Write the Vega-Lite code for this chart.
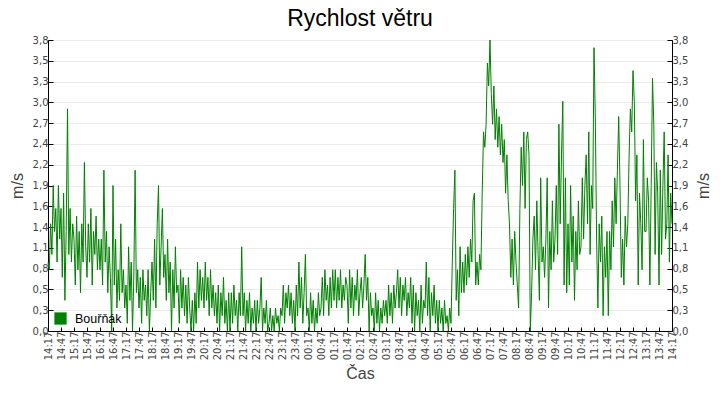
{
  "$schema": "https://vega.github.io/schema/vega-lite/v6.json",
  "autosize": "none",
  "width": 624,
  "height": 291,
  "padding": {"left": 48, "top": 40, "right": 48, "bottom": 69},
  "background": "white",
  "title": {
    "text": "Rychlost větru",
    "font": "Liberation Sans",
    "fontSize": 23,
    "fontWeight": "normal",
    "color": "black",
    "offset": 4
  },
  "data": {
    "values": [
      {"t": "2024-05-01T14:17", "v": 0.9}, {"t": "2024-05-01T14:20", "v": 0.8}, {"t": "2024-05-01T14:23", "v": 1.4}, {"t": "2024-05-01T14:26", "v": 1.0}, {"t": "2024-05-01T14:29", "v": 1.9},
      {"t": "2024-05-01T14:32", "v": 1.3}, {"t": "2024-05-01T14:35", "v": 1.6}, {"t": "2024-05-01T14:38", "v": 0.9}, {"t": "2024-05-01T14:41", "v": 1.9}, {"t": "2024-05-01T14:44", "v": 1.2},
      {"t": "2024-05-01T14:47", "v": 1.6}, {"t": "2024-05-01T14:50", "v": 0.7}, {"t": "2024-05-01T14:53", "v": 1.8}, {"t": "2024-05-01T14:56", "v": 0.4}, {"t": "2024-05-01T14:59", "v": 1.3},
      {"t": "2024-05-01T15:02", "v": 2.9}, {"t": "2024-05-01T15:05", "v": 1.0}, {"t": "2024-05-01T15:08", "v": 1.6}, {"t": "2024-05-01T15:11", "v": 0.9}, {"t": "2024-05-01T15:14", "v": 1.4},
      {"t": "2024-05-01T15:17", "v": 1.2}, {"t": "2024-05-01T15:20", "v": 0.6}, {"t": "2024-05-01T15:23", "v": 1.5}, {"t": "2024-05-01T15:26", "v": 0.8}, {"t": "2024-05-01T15:29", "v": 1.3},
      {"t": "2024-05-01T15:32", "v": 0.5}, {"t": "2024-05-01T15:35", "v": 1.4}, {"t": "2024-05-01T15:38", "v": 0.9}, {"t": "2024-05-01T15:41", "v": 2.2}, {"t": "2024-05-01T15:44", "v": 1.1},
      {"t": "2024-05-01T15:47", "v": 0.7}, {"t": "2024-05-01T15:50", "v": 1.4}, {"t": "2024-05-01T15:53", "v": 0.9}, {"t": "2024-05-01T15:56", "v": 1.6}, {"t": "2024-05-01T15:59", "v": 0.6},
      {"t": "2024-05-01T16:02", "v": 1.3}, {"t": "2024-05-01T16:05", "v": 1.0}, {"t": "2024-05-01T16:08", "v": 1.5}, {"t": "2024-05-01T16:11", "v": 0.8}, {"t": "2024-05-01T16:14", "v": 1.2},
      {"t": "2024-05-01T16:17", "v": 0.8}, {"t": "2024-05-01T16:20", "v": 1.2}, {"t": "2024-05-01T16:23", "v": 0.6}, {"t": "2024-05-01T16:26", "v": 2.1}, {"t": "2024-05-01T16:29", "v": 0.9},
      {"t": "2024-05-01T16:32", "v": 1.3}, {"t": "2024-05-01T16:35", "v": 0.5}, {"t": "2024-05-01T16:38", "v": 1.1}, {"t": "2024-05-01T16:41", "v": 0.7}, {"t": "2024-05-01T16:44", "v": 0.0},
      {"t": "2024-05-01T16:47", "v": 1.9}, {"t": "2024-05-01T16:50", "v": 0.6}, {"t": "2024-05-01T16:53", "v": 1.2}, {"t": "2024-05-01T16:56", "v": 0.3}, {"t": "2024-05-01T16:59", "v": 0.8},
      {"t": "2024-05-01T17:02", "v": 0.4}, {"t": "2024-05-01T17:05", "v": 1.4}, {"t": "2024-05-01T17:08", "v": 0.5}, {"t": "2024-05-01T17:11", "v": 0.8}, {"t": "2024-05-01T17:14", "v": 0.3},
      {"t": "2024-05-01T17:17", "v": 0.6}, {"t": "2024-05-01T17:20", "v": 0.1}, {"t": "2024-05-01T17:23", "v": 1.1}, {"t": "2024-05-01T17:26", "v": 0.4}, {"t": "2024-05-01T17:29", "v": 0.9},
      {"t": "2024-05-01T17:32", "v": 0.0}, {"t": "2024-05-01T17:35", "v": 0.7}, {"t": "2024-05-01T17:38", "v": 2.1}, {"t": "2024-05-01T17:41", "v": 0.5}, {"t": "2024-05-01T17:44", "v": 0.8},
      {"t": "2024-05-01T17:47", "v": 0.3}, {"t": "2024-05-01T17:50", "v": 0.7}, {"t": "2024-05-01T17:53", "v": 0.1}, {"t": "2024-05-01T17:56", "v": 0.8}, {"t": "2024-05-01T17:59", "v": 0.4},
      {"t": "2024-05-01T18:02", "v": 0.6}, {"t": "2024-05-01T18:05", "v": 0.2}, {"t": "2024-05-01T18:08", "v": 0.8}, {"t": "2024-05-01T18:11", "v": 0.0}, {"t": "2024-05-01T18:14", "v": 0.5},
      {"t": "2024-05-01T18:17", "v": 0.9}, {"t": "2024-05-01T18:20", "v": 0.4}, {"t": "2024-05-01T18:23", "v": 1.2}, {"t": "2024-05-01T18:26", "v": 0.3}, {"t": "2024-05-01T18:29", "v": 1.4},
      {"t": "2024-05-01T18:32", "v": 1.9}, {"t": "2024-05-01T18:35", "v": 0.6}, {"t": "2024-05-01T18:38", "v": 1.1}, {"t": "2024-05-01T18:41", "v": 1.6}, {"t": "2024-05-01T18:44", "v": 0.7},
      {"t": "2024-05-01T18:47", "v": 1.0}, {"t": "2024-05-01T18:50", "v": 0.4}, {"t": "2024-05-01T18:53", "v": 1.2}, {"t": "2024-05-01T18:56", "v": 0.5}, {"t": "2024-05-01T18:59", "v": 0.9},
      {"t": "2024-05-01T19:02", "v": 0.0}, {"t": "2024-05-01T19:05", "v": 0.8}, {"t": "2024-05-01T19:08", "v": 0.3}, {"t": "2024-05-01T19:11", "v": 1.1}, {"t": "2024-05-01T19:14", "v": 0.5},
      {"t": "2024-05-01T19:17", "v": 0.6}, {"t": "2024-05-01T19:20", "v": 0.1}, {"t": "2024-05-01T19:23", "v": 0.8}, {"t": "2024-05-01T19:26", "v": 0.3}, {"t": "2024-05-01T19:29", "v": 0.7},
      {"t": "2024-05-01T19:32", "v": 0.2}, {"t": "2024-05-01T19:35", "v": 0.6}, {"t": "2024-05-01T19:38", "v": 0.1}, {"t": "2024-05-01T19:41", "v": 0.7}, {"t": "2024-05-01T19:44", "v": 0.3},
      {"t": "2024-05-01T19:47", "v": 0.0}, {"t": "2024-05-01T19:50", "v": 0.4}, {"t": "2024-05-01T19:53", "v": 0.0}, {"t": "2024-05-01T19:56", "v": 0.5}, {"t": "2024-05-01T19:59", "v": 0.1},
      {"t": "2024-05-01T20:02", "v": 0.9}, {"t": "2024-05-01T20:05", "v": 0.3}, {"t": "2024-05-01T20:08", "v": 0.8}, {"t": "2024-05-01T20:11", "v": 0.4}, {"t": "2024-05-01T20:14", "v": 0.7},
      {"t": "2024-05-01T20:17", "v": 0.3}, {"t": "2024-05-01T20:20", "v": 0.9}, {"t": "2024-05-01T20:23", "v": 0.4}, {"t": "2024-05-01T20:26", "v": 0.7}, {"t": "2024-05-01T20:29", "v": 0.2},
      {"t": "2024-05-01T20:32", "v": 0.8}, {"t": "2024-05-01T20:35", "v": 0.3}, {"t": "2024-05-01T20:38", "v": 0.6}, {"t": "2024-05-01T20:41", "v": 0.2}, {"t": "2024-05-01T20:44", "v": 0.5},
      {"t": "2024-05-01T20:47", "v": 0.1}, {"t": "2024-05-01T20:50", "v": 0.6}, {"t": "2024-05-01T20:53", "v": 0.0}, {"t": "2024-05-01T20:56", "v": 0.5}, {"t": "2024-05-01T20:59", "v": 0.2},
      {"t": "2024-05-01T21:02", "v": 0.7}, {"t": "2024-05-01T21:05", "v": 0.1}, {"t": "2024-05-01T21:08", "v": 0.4}, {"t": "2024-05-01T21:11", "v": 0.0}, {"t": "2024-05-01T21:14", "v": 0.5},
      {"t": "2024-05-01T21:17", "v": 0.0}, {"t": "2024-05-01T21:20", "v": 0.5}, {"t": "2024-05-01T21:23", "v": 0.1}, {"t": "2024-05-01T21:26", "v": 0.6}, {"t": "2024-05-01T21:29", "v": 0.2},
      {"t": "2024-05-01T21:32", "v": 0.4}, {"t": "2024-05-01T21:35", "v": 0.0}, {"t": "2024-05-01T21:38", "v": 0.5}, {"t": "2024-05-01T21:41", "v": 0.2}, {"t": "2024-05-01T21:44", "v": 1.1},
      {"t": "2024-05-01T21:47", "v": 0.2}, {"t": "2024-05-01T21:50", "v": 0.5}, {"t": "2024-05-01T21:53", "v": 0.0}, {"t": "2024-05-01T21:56", "v": 0.4}, {"t": "2024-05-01T21:59", "v": 0.1},
      {"t": "2024-05-01T22:02", "v": 0.5}, {"t": "2024-05-01T22:05", "v": 0.0}, {"t": "2024-05-01T22:08", "v": 0.3}, {"t": "2024-05-01T22:11", "v": 0.1}, {"t": "2024-05-01T22:14", "v": 0.4},
      {"t": "2024-05-01T22:17", "v": 0.0}, {"t": "2024-05-01T22:20", "v": 0.4}, {"t": "2024-05-01T22:23", "v": 0.1}, {"t": "2024-05-01T22:26", "v": 0.3}, {"t": "2024-05-01T22:29", "v": 0.7},
      {"t": "2024-05-01T22:32", "v": 0.0}, {"t": "2024-05-01T22:35", "v": 0.3}, {"t": "2024-05-01T22:38", "v": 0.1}, {"t": "2024-05-01T22:41", "v": 0.4}, {"t": "2024-05-01T22:44", "v": 0.0},
      {"t": "2024-05-01T22:47", "v": 0.1}, {"t": "2024-05-01T22:50", "v": 0.3}, {"t": "2024-05-01T22:53", "v": 0.0}, {"t": "2024-05-01T22:56", "v": 0.2}, {"t": "2024-05-01T22:59", "v": 0.0},
      {"t": "2024-05-01T23:02", "v": 0.3}, {"t": "2024-05-01T23:05", "v": 0.1}, {"t": "2024-05-01T23:08", "v": 0.2}, {"t": "2024-05-01T23:11", "v": 0.0}, {"t": "2024-05-01T23:14", "v": 0.3},
      {"t": "2024-05-01T23:17", "v": 0.2}, {"t": "2024-05-01T23:20", "v": 0.6}, {"t": "2024-05-01T23:23", "v": 0.1}, {"t": "2024-05-01T23:26", "v": 0.5}, {"t": "2024-05-01T23:29", "v": 0.3},
      {"t": "2024-05-01T23:32", "v": 0.6}, {"t": "2024-05-01T23:35", "v": 0.2}, {"t": "2024-05-01T23:38", "v": 0.5}, {"t": "2024-05-01T23:41", "v": 0.1}, {"t": "2024-05-01T23:44", "v": 0.4},
      {"t": "2024-05-01T23:47", "v": 0.0}, {"t": "2024-05-01T23:50", "v": 0.6}, {"t": "2024-05-01T23:53", "v": 0.2}, {"t": "2024-05-01T23:56", "v": 0.9}, {"t": "2024-05-01T23:59", "v": 0.3},
      {"t": "2024-05-02T00:02", "v": 0.7}, {"t": "2024-05-02T00:05", "v": 0.1}, {"t": "2024-05-02T00:08", "v": 0.5}, {"t": "2024-05-02T00:11", "v": 1.0}, {"t": "2024-05-02T00:14", "v": 0.2},
      {"t": "2024-05-02T00:17", "v": 0.3}, {"t": "2024-05-02T00:20", "v": 0.0}, {"t": "2024-05-02T00:23", "v": 0.5}, {"t": "2024-05-02T00:26", "v": 0.1}, {"t": "2024-05-02T00:29", "v": 0.4},
      {"t": "2024-05-02T00:32", "v": 0.0}, {"t": "2024-05-02T00:35", "v": 0.3}, {"t": "2024-05-02T00:38", "v": 0.1}, {"t": "2024-05-02T00:41", "v": 0.5}, {"t": "2024-05-02T00:44", "v": 0.2},
      {"t": "2024-05-02T00:47", "v": 0.3}, {"t": "2024-05-02T00:50", "v": 0.7}, {"t": "2024-05-02T00:53", "v": 0.2}, {"t": "2024-05-02T00:56", "v": 0.8}, {"t": "2024-05-02T00:59", "v": 0.4},
      {"t": "2024-05-02T01:02", "v": 0.6}, {"t": "2024-05-02T01:05", "v": 0.2}, {"t": "2024-05-02T01:08", "v": 0.7}, {"t": "2024-05-02T01:11", "v": 0.3}, {"t": "2024-05-02T01:14", "v": 0.8},
      {"t": "2024-05-02T01:17", "v": 0.4}, {"t": "2024-05-02T01:20", "v": 0.8}, {"t": "2024-05-02T01:23", "v": 0.3}, {"t": "2024-05-02T01:26", "v": 0.7}, {"t": "2024-05-02T01:29", "v": 0.4},
      {"t": "2024-05-02T01:32", "v": 0.8}, {"t": "2024-05-02T01:35", "v": 0.3}, {"t": "2024-05-02T01:38", "v": 0.6}, {"t": "2024-05-02T01:41", "v": 0.4}, {"t": "2024-05-02T01:44", "v": 0.7},
      {"t": "2024-05-02T01:47", "v": 0.6}, {"t": "2024-05-02T01:50", "v": 0.1}, {"t": "2024-05-02T01:53", "v": 0.8}, {"t": "2024-05-02T01:56", "v": 0.3}, {"t": "2024-05-02T01:59", "v": 0.7},
      {"t": "2024-05-02T02:02", "v": 0.2}, {"t": "2024-05-02T02:05", "v": 0.6}, {"t": "2024-05-02T02:08", "v": 0.4}, {"t": "2024-05-02T02:11", "v": 0.8}, {"t": "2024-05-02T02:14", "v": 0.2},
      {"t": "2024-05-02T02:17", "v": 0.5}, {"t": "2024-05-02T02:20", "v": 0.7}, {"t": "2024-05-02T02:23", "v": 0.3}, {"t": "2024-05-02T02:26", "v": 0.6}, {"t": "2024-05-02T02:29", "v": 1.0},
      {"t": "2024-05-02T02:32", "v": 0.4}, {"t": "2024-05-02T02:35", "v": 0.7}, {"t": "2024-05-02T02:38", "v": 0.0}, {"t": "2024-05-02T02:41", "v": 0.5}, {"t": "2024-05-02T02:44", "v": 0.2},
      {"t": "2024-05-02T02:47", "v": 0.3}, {"t": "2024-05-02T02:50", "v": 0.0}, {"t": "2024-05-02T02:53", "v": 0.5}, {"t": "2024-05-02T02:56", "v": 0.1}, {"t": "2024-05-02T02:59", "v": 0.4},
      {"t": "2024-05-02T03:02", "v": 0.0}, {"t": "2024-05-02T03:05", "v": 0.3}, {"t": "2024-05-02T03:08", "v": 0.1}, {"t": "2024-05-02T03:11", "v": 0.4}, {"t": "2024-05-02T03:14", "v": 0.2},
      {"t": "2024-05-02T03:17", "v": 0.4}, {"t": "2024-05-02T03:20", "v": 0.1}, {"t": "2024-05-02T03:23", "v": 0.6}, {"t": "2024-05-02T03:26", "v": 0.2}, {"t": "2024-05-02T03:29", "v": 0.5},
      {"t": "2024-05-02T03:32", "v": 0.1}, {"t": "2024-05-02T03:35", "v": 0.6}, {"t": "2024-05-02T03:38", "v": 0.3}, {"t": "2024-05-02T03:41", "v": 0.5}, {"t": "2024-05-02T03:44", "v": 0.8},
      {"t": "2024-05-02T03:47", "v": 0.3}, {"t": "2024-05-02T03:50", "v": 0.7}, {"t": "2024-05-02T03:53", "v": 0.2}, {"t": "2024-05-02T03:56", "v": 0.6}, {"t": "2024-05-02T03:59", "v": 0.4},
      {"t": "2024-05-02T04:02", "v": 0.7}, {"t": "2024-05-02T04:05", "v": 0.2}, {"t": "2024-05-02T04:08", "v": 0.5}, {"t": "2024-05-02T04:11", "v": 0.3}, {"t": "2024-05-02T04:14", "v": 0.7},
      {"t": "2024-05-02T04:17", "v": 0.1}, {"t": "2024-05-02T04:20", "v": 0.6}, {"t": "2024-05-02T04:23", "v": 0.0}, {"t": "2024-05-02T04:26", "v": 0.5}, {"t": "2024-05-02T04:29", "v": 0.2},
      {"t": "2024-05-02T04:32", "v": 0.4}, {"t": "2024-05-02T04:35", "v": 0.0}, {"t": "2024-05-02T04:38", "v": 0.6}, {"t": "2024-05-02T04:41", "v": 0.1}, {"t": "2024-05-02T04:44", "v": 0.4},
      {"t": "2024-05-02T04:47", "v": 0.3}, {"t": "2024-05-02T04:50", "v": 0.9}, {"t": "2024-05-02T04:53", "v": 0.2}, {"t": "2024-05-02T04:56", "v": 0.7}, {"t": "2024-05-02T04:59", "v": 0.0},
      {"t": "2024-05-02T05:02", "v": 0.5}, {"t": "2024-05-02T05:05", "v": 0.2}, {"t": "2024-05-02T05:08", "v": 0.6}, {"t": "2024-05-02T05:11", "v": 0.1}, {"t": "2024-05-02T05:14", "v": 0.4},
      {"t": "2024-05-02T05:17", "v": 0.0}, {"t": "2024-05-02T05:20", "v": 0.4}, {"t": "2024-05-02T05:23", "v": 0.1}, {"t": "2024-05-02T05:26", "v": 0.3}, {"t": "2024-05-02T05:29", "v": 0.0},
      {"t": "2024-05-02T05:32", "v": 0.4}, {"t": "2024-05-02T05:35", "v": 0.1}, {"t": "2024-05-02T05:38", "v": 0.2}, {"t": "2024-05-02T05:41", "v": 0.0}, {"t": "2024-05-02T05:44", "v": 0.3},
      {"t": "2024-05-02T05:47", "v": 0.1}, {"t": "2024-05-02T05:50", "v": 0.9}, {"t": "2024-05-02T05:53", "v": 1.6}, {"t": "2024-05-02T05:56", "v": 2.1}, {"t": "2024-05-02T05:59", "v": 0.4},
      {"t": "2024-05-02T06:02", "v": 0.8}, {"t": "2024-05-02T06:05", "v": 0.2}, {"t": "2024-05-02T06:08", "v": 1.1}, {"t": "2024-05-02T06:11", "v": 0.5}, {"t": "2024-05-02T06:14", "v": 0.9},
      {"t": "2024-05-02T06:17", "v": 0.5}, {"t": "2024-05-02T06:20", "v": 1.0}, {"t": "2024-05-02T06:23", "v": 0.6}, {"t": "2024-05-02T06:26", "v": 1.1}, {"t": "2024-05-02T06:29", "v": 0.7},
      {"t": "2024-05-02T06:32", "v": 1.2}, {"t": "2024-05-02T06:35", "v": 0.9}, {"t": "2024-05-02T06:38", "v": 1.7}, {"t": "2024-05-02T06:41", "v": 1.8}, {"t": "2024-05-02T06:44", "v": 0.6},
      {"t": "2024-05-02T06:47", "v": 0.9}, {"t": "2024-05-02T06:50", "v": 0.6}, {"t": "2024-05-02T06:53", "v": 1.0}, {"t": "2024-05-02T06:56", "v": 0.8}, {"t": "2024-05-02T06:59", "v": 1.8},
      {"t": "2024-05-02T07:02", "v": 2.6}, {"t": "2024-05-02T07:05", "v": 2.4}, {"t": "2024-05-02T07:08", "v": 2.7}, {"t": "2024-05-02T07:11", "v": 3.5}, {"t": "2024-05-02T07:14", "v": 3.2},
      {"t": "2024-05-02T07:17", "v": 3.8}, {"t": "2024-05-02T07:20", "v": 3.1}, {"t": "2024-05-02T07:23", "v": 2.7}, {"t": "2024-05-02T07:26", "v": 3.2}, {"t": "2024-05-02T07:29", "v": 2.5},
      {"t": "2024-05-02T07:32", "v": 2.9}, {"t": "2024-05-02T07:35", "v": 2.4}, {"t": "2024-05-02T07:38", "v": 2.8}, {"t": "2024-05-02T07:41", "v": 2.3}, {"t": "2024-05-02T07:44", "v": 2.7},
      {"t": "2024-05-02T07:47", "v": 2.2}, {"t": "2024-05-02T07:50", "v": 2.5}, {"t": "2024-05-02T07:53", "v": 1.8}, {"t": "2024-05-02T07:56", "v": 2.3}, {"t": "2024-05-02T07:59", "v": 1.7},
      {"t": "2024-05-02T08:02", "v": 1.4}, {"t": "2024-05-02T08:05", "v": 0.7}, {"t": "2024-05-02T08:08", "v": 1.2}, {"t": "2024-05-02T08:11", "v": 0.6}, {"t": "2024-05-02T08:14", "v": 1.3},
      {"t": "2024-05-02T08:17", "v": 0.9}, {"t": "2024-05-02T08:20", "v": 0.6}, {"t": "2024-05-02T08:23", "v": 0.3}, {"t": "2024-05-02T08:26", "v": 1.6}, {"t": "2024-05-02T08:29", "v": 2.4},
      {"t": "2024-05-02T08:32", "v": 1.9}, {"t": "2024-05-02T08:35", "v": 2.6}, {"t": "2024-05-02T08:38", "v": 1.6}, {"t": "2024-05-02T08:41", "v": 2.5}, {"t": "2024-05-02T08:44", "v": 2.6},
      {"t": "2024-05-02T08:47", "v": 2.3}, {"t": "2024-05-02T08:50", "v": 0.0}, {"t": "2024-05-02T08:53", "v": 0.5}, {"t": "2024-05-02T08:56", "v": 1.2}, {"t": "2024-05-02T08:59", "v": 1.5},
      {"t": "2024-05-02T09:02", "v": 0.8}, {"t": "2024-05-02T09:05", "v": 1.7}, {"t": "2024-05-02T09:08", "v": 1.0}, {"t": "2024-05-02T09:11", "v": 0.4}, {"t": "2024-05-02T09:14", "v": 2.0},
      {"t": "2024-05-02T09:17", "v": 0.9}, {"t": "2024-05-02T09:20", "v": 1.1}, {"t": "2024-05-02T09:23", "v": 0.7}, {"t": "2024-05-02T09:26", "v": 1.2}, {"t": "2024-05-02T09:29", "v": 2.0},
      {"t": "2024-05-02T09:32", "v": 0.3}, {"t": "2024-05-02T09:35", "v": 1.3}, {"t": "2024-05-02T09:38", "v": 0.8}, {"t": "2024-05-02T09:41", "v": 1.7}, {"t": "2024-05-02T09:44", "v": 0.9},
      {"t": "2024-05-02T09:47", "v": 1.2}, {"t": "2024-05-02T09:50", "v": 1.9}, {"t": "2024-05-02T09:53", "v": 1.0}, {"t": "2024-05-02T09:56", "v": 2.7}, {"t": "2024-05-02T09:59", "v": 1.4},
      {"t": "2024-05-02T10:02", "v": 2.3}, {"t": "2024-05-02T10:05", "v": 3.0}, {"t": "2024-05-02T10:08", "v": 0.6}, {"t": "2024-05-02T10:11", "v": 2.0}, {"t": "2024-05-02T10:14", "v": 0.5},
      {"t": "2024-05-02T10:17", "v": 1.4}, {"t": "2024-05-02T10:20", "v": 0.6}, {"t": "2024-05-02T10:23", "v": 1.9}, {"t": "2024-05-02T10:26", "v": 0.9}, {"t": "2024-05-02T10:29", "v": 1.5},
      {"t": "2024-05-02T10:32", "v": 0.4}, {"t": "2024-05-02T10:35", "v": 1.3}, {"t": "2024-05-02T10:38", "v": 0.8}, {"t": "2024-05-02T10:41", "v": 1.7}, {"t": "2024-05-02T10:44", "v": 1.0},
      {"t": "2024-05-02T10:47", "v": 1.1}, {"t": "2024-05-02T10:50", "v": 2.0}, {"t": "2024-05-02T10:53", "v": 1.2}, {"t": "2024-05-02T10:56", "v": 1.9}, {"t": "2024-05-02T10:59", "v": 2.3},
      {"t": "2024-05-02T11:02", "v": 1.4}, {"t": "2024-05-02T11:05", "v": 2.6}, {"t": "2024-05-02T11:08", "v": 1.0}, {"t": "2024-05-02T11:11", "v": 1.9}, {"t": "2024-05-02T11:14", "v": 1.6},
      {"t": "2024-05-02T11:17", "v": 3.7}, {"t": "2024-05-02T11:20", "v": 2.8}, {"t": "2024-05-02T11:23", "v": 1.2}, {"t": "2024-05-02T11:26", "v": 0.3}, {"t": "2024-05-02T11:29", "v": 1.4},
      {"t": "2024-05-02T11:32", "v": 0.9}, {"t": "2024-05-02T11:35", "v": 1.5}, {"t": "2024-05-02T11:38", "v": 0.2}, {"t": "2024-05-02T11:41", "v": 1.1}, {"t": "2024-05-02T11:44", "v": 0.7},
      {"t": "2024-05-02T11:47", "v": 1.3}, {"t": "2024-05-02T11:50", "v": 0.2}, {"t": "2024-05-02T11:53", "v": 1.3}, {"t": "2024-05-02T11:56", "v": 0.8}, {"t": "2024-05-02T11:59", "v": 1.7},
      {"t": "2024-05-02T12:02", "v": 1.1}, {"t": "2024-05-02T12:05", "v": 2.0}, {"t": "2024-05-02T12:08", "v": 1.4}, {"t": "2024-05-02T12:11", "v": 2.1}, {"t": "2024-05-02T12:14", "v": 2.8},
      {"t": "2024-05-02T12:17", "v": 1.9}, {"t": "2024-05-02T12:20", "v": 0.7}, {"t": "2024-05-02T12:23", "v": 1.2}, {"t": "2024-05-02T12:26", "v": 0.6}, {"t": "2024-05-02T12:29", "v": 1.5},
      {"t": "2024-05-02T12:32", "v": 1.1}, {"t": "2024-05-02T12:35", "v": 1.4}, {"t": "2024-05-02T12:38", "v": 2.3}, {"t": "2024-05-02T12:41", "v": 2.9}, {"t": "2024-05-02T12:44", "v": 2.6},
      {"t": "2024-05-02T12:47", "v": 3.4}, {"t": "2024-05-02T12:50", "v": 3.0}, {"t": "2024-05-02T12:53", "v": 1.7}, {"t": "2024-05-02T12:56", "v": 2.3}, {"t": "2024-05-02T12:59", "v": 0.6},
      {"t": "2024-05-02T13:02", "v": 1.8}, {"t": "2024-05-02T13:05", "v": 1.4}, {"t": "2024-05-02T13:08", "v": 0.8}, {"t": "2024-05-02T13:11", "v": 2.5}, {"t": "2024-05-02T13:14", "v": 1.3},
      {"t": "2024-05-02T13:17", "v": 1.3}, {"t": "2024-05-02T13:20", "v": 2.0}, {"t": "2024-05-02T13:23", "v": 1.7}, {"t": "2024-05-02T13:26", "v": 0.6}, {"t": "2024-05-02T13:29", "v": 1.9},
      {"t": "2024-05-02T13:32", "v": 3.3}, {"t": "2024-05-02T13:35", "v": 2.7}, {"t": "2024-05-02T13:38", "v": 1.0}, {"t": "2024-05-02T13:41", "v": 2.2}, {"t": "2024-05-02T13:44", "v": 1.8},
      {"t": "2024-05-02T13:47", "v": 0.6}, {"t": "2024-05-02T13:50", "v": 2.1}, {"t": "2024-05-02T13:53", "v": 1.0}, {"t": "2024-05-02T13:56", "v": 1.9}, {"t": "2024-05-02T13:59", "v": 2.6},
      {"t": "2024-05-02T14:02", "v": 1.2}, {"t": "2024-05-02T14:05", "v": 1.4}, {"t": "2024-05-02T14:08", "v": 2.3}, {"t": "2024-05-02T14:11", "v": 0.9}, {"t": "2024-05-02T14:14", "v": 1.8},
      {"t": "2024-05-02T14:17", "v": 1.4}
    ]
  },
  "encoding": {
    "x": {
      "field": "t",
      "type": "temporal",
      "title": "Čas",
      "scale": {
        "domain": [
          {"year": 2024, "month": 5, "date": 1, "hours": 14, "minutes": 17},
          {"year": 2024, "month": 5, "date": 2, "hours": 14, "minutes": 17}
        ]
      },
      "axis": {
        "labelExpr": "timeFormat(datum.value, '%H:%M')",
        "labelAngle": -90,
        "labelAlign": "right",
        "labelBaseline": "middle",
        "labelPadding": 4,
        "labelFlush": false,
        "labelLimit": 200,
        "tickSize": -4,
        "grid": false,
        "titlePadding": 6,
        "values": [
          {"year": 2024, "month": 5, "date": 1, "hours": 14, "minutes": 17},
          {"year": 2024, "month": 5, "date": 1, "hours": 14, "minutes": 47},
          {"year": 2024, "month": 5, "date": 1, "hours": 15, "minutes": 17},
          {"year": 2024, "month": 5, "date": 1, "hours": 15, "minutes": 47},
          {"year": 2024, "month": 5, "date": 1, "hours": 16, "minutes": 17},
          {"year": 2024, "month": 5, "date": 1, "hours": 16, "minutes": 47},
          {"year": 2024, "month": 5, "date": 1, "hours": 17, "minutes": 17},
          {"year": 2024, "month": 5, "date": 1, "hours": 17, "minutes": 47},
          {"year": 2024, "month": 5, "date": 1, "hours": 18, "minutes": 17},
          {"year": 2024, "month": 5, "date": 1, "hours": 18, "minutes": 47},
          {"year": 2024, "month": 5, "date": 1, "hours": 19, "minutes": 17},
          {"year": 2024, "month": 5, "date": 1, "hours": 19, "minutes": 47},
          {"year": 2024, "month": 5, "date": 1, "hours": 20, "minutes": 17},
          {"year": 2024, "month": 5, "date": 1, "hours": 20, "minutes": 47},
          {"year": 2024, "month": 5, "date": 1, "hours": 21, "minutes": 17},
          {"year": 2024, "month": 5, "date": 1, "hours": 21, "minutes": 47},
          {"year": 2024, "month": 5, "date": 1, "hours": 22, "minutes": 17},
          {"year": 2024, "month": 5, "date": 1, "hours": 22, "minutes": 47},
          {"year": 2024, "month": 5, "date": 1, "hours": 23, "minutes": 17},
          {"year": 2024, "month": 5, "date": 1, "hours": 23, "minutes": 47},
          {"year": 2024, "month": 5, "date": 2, "hours": 0, "minutes": 17},
          {"year": 2024, "month": 5, "date": 2, "hours": 0, "minutes": 47},
          {"year": 2024, "month": 5, "date": 2, "hours": 1, "minutes": 17},
          {"year": 2024, "month": 5, "date": 2, "hours": 1, "minutes": 47},
          {"year": 2024, "month": 5, "date": 2, "hours": 2, "minutes": 17},
          {"year": 2024, "month": 5, "date": 2, "hours": 2, "minutes": 47},
          {"year": 2024, "month": 5, "date": 2, "hours": 3, "minutes": 17},
          {"year": 2024, "month": 5, "date": 2, "hours": 3, "minutes": 47},
          {"year": 2024, "month": 5, "date": 2, "hours": 4, "minutes": 17},
          {"year": 2024, "month": 5, "date": 2, "hours": 4, "minutes": 47},
          {"year": 2024, "month": 5, "date": 2, "hours": 5, "minutes": 17},
          {"year": 2024, "month": 5, "date": 2, "hours": 5, "minutes": 47},
          {"year": 2024, "month": 5, "date": 2, "hours": 6, "minutes": 17},
          {"year": 2024, "month": 5, "date": 2, "hours": 6, "minutes": 47},
          {"year": 2024, "month": 5, "date": 2, "hours": 7, "minutes": 17},
          {"year": 2024, "month": 5, "date": 2, "hours": 7, "minutes": 47},
          {"year": 2024, "month": 5, "date": 2, "hours": 8, "minutes": 17},
          {"year": 2024, "month": 5, "date": 2, "hours": 8, "minutes": 47},
          {"year": 2024, "month": 5, "date": 2, "hours": 9, "minutes": 17},
          {"year": 2024, "month": 5, "date": 2, "hours": 9, "minutes": 47},
          {"year": 2024, "month": 5, "date": 2, "hours": 10, "minutes": 17},
          {"year": 2024, "month": 5, "date": 2, "hours": 10, "minutes": 47},
          {"year": 2024, "month": 5, "date": 2, "hours": 11, "minutes": 17},
          {"year": 2024, "month": 5, "date": 2, "hours": 11, "minutes": 47},
          {"year": 2024, "month": 5, "date": 2, "hours": 12, "minutes": 17},
          {"year": 2024, "month": 5, "date": 2, "hours": 12, "minutes": 47},
          {"year": 2024, "month": 5, "date": 2, "hours": 13, "minutes": 17},
          {"year": 2024, "month": 5, "date": 2, "hours": 13, "minutes": 47},
          {"year": 2024, "month": 5, "date": 2, "hours": 14, "minutes": 17}
        ]
      }
    }
  },
  "layer": [
    {
      "mark": {"type": "line", "strokeWidth": 1, "interpolate": "linear"},
      "encoding": {
        "y": {
          "field": "v",
          "type": "quantitative",
          "title": "m/s",
          "scale": {"domain": [0, 3.8], "nice": false},
          "axis": {
            "orient": "left",
            "values": [0, 0.27142857, 0.54285714, 0.81428571, 1.08571429, 1.35714286, 1.62857143, 1.9, 2.17142857, 2.44285714, 2.71428571, 2.98571429, 3.25714286, 3.52857143, 3.8],
            "labelExpr": "replace(format(datum.value, '.1f'), '.', ',')",
            "tickSize": -5,
            "labelPadding": 5,
            "grid": true,
            "titlePadding": 7
          }
        },
        "color": {
          "datum": "Bouřňák",
          "type": "nominal",
          "scale": {"range": ["#008000"]},
          "legend": {
            "title": null,
            "orient": "bottom-left",
            "offset": 6,
            "padding": 0,
            "labelFont": "Liberation Sans",
            "labelFontSize": 12.5,
            "labelColor": "black",
            "symbolType": "square",
            "symbolSize": 150,
            "labelOffset": 8,
            "encode": {
              "symbols": {"update": {"fill": {"value": "#008000"}, "stroke": {"value": "#008000"}, "strokeWidth": {"value": 0}}}
            }
          }
        }
      }
    },
    {
      "mark": {"type": "line", "opacity": 0},
      "encoding": {
        "y": {
          "field": "v",
          "type": "quantitative",
          "title": "m/s",
          "scale": {"domain": [0, 3.8], "nice": false},
          "axis": {
            "orient": "right",
            "values": [0, 0.27142857, 0.54285714, 0.81428571, 1.08571429, 1.35714286, 1.62857143, 1.9, 2.17142857, 2.44285714, 2.71428571, 2.98571429, 3.25714286, 3.52857143, 3.8],
            "labelExpr": "replace(format(datum.value, '.1f'), '.', ',')",
            "tickSize": -5,
            "labelPadding": 5,
            "grid": false,
            "titleAngle": -90,
            "titlePadding": 24
          }
        }
      }
    }
  ],
  "resolve": {"axis": {"y": "independent"}},
  "config": {
    "view": {"stroke": "black", "strokeWidth": 1},
    "axis": {
      "labelFont": "DejaVu Sans",
      "labelFontSize": 10,
      "labelColor": "#444444",
      "titleFont": "Liberation Sans",
      "titleFontSize": 16,
      "titleFontWeight": "normal",
      "titleColor": "#444444",
      "domainColor": "black",
      "tickColor": "black",
      "gridColor": "#ebebeb",
      "labelOverlap": false
    }
  }
}
